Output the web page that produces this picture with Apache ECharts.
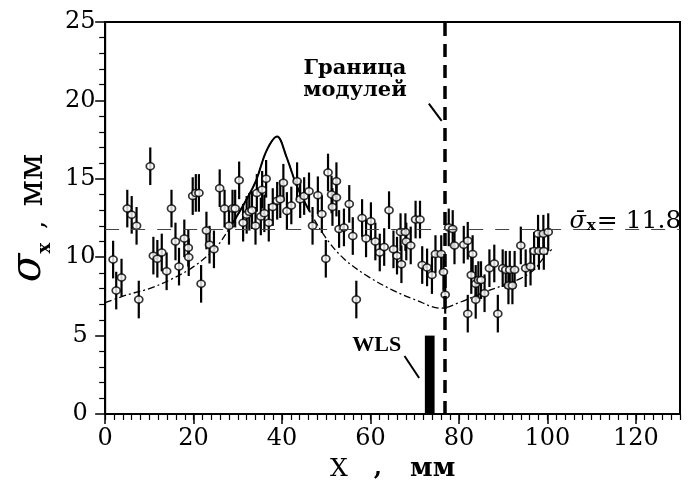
<!DOCTYPE html>
<html><head><meta charset="utf-8">
<script src="https://cdn.jsdelivr.net/npm/echarts@6/dist/echarts.min.js"></script>
<style>html,body{margin:0;padding:0;background:#fff}#c{width:688px;height:487px}</style>
</head><body><div id="c"></div>
<script>
// ---- data ----
const xTicks = [0, 20, 40, 60, 80, 100, 120];
const yTicks = [0, 5, 10, 15, 20, 25];
const pointX = [1.8, 2.5, 3.7, 5.0, 6.0, 7.1, 7.6, 10.2, 10.9, 11.8,
  12.8, 13.9, 15.0, 15.9, 16.7, 17.9, 18.8, 18.9, 19.8, 20.5,
  21.2, 21.7, 22.9, 23.6, 24.6, 25.9, 27.0, 28.0, 28.8, 29.4,
  30.3, 31.2, 32.0, 32.6, 33.2, 34.0, 34.3, 35.2, 35.5, 36.0,
  36.4, 37.0, 37.9, 38.9, 39.6, 40.3, 41.1, 42.1, 43.4, 44.1,
  45.0, 46.1, 46.9, 48.1, 49.0, 49.9, 50.4, 51.2, 51.4, 52.3,
  52.3, 52.9, 54.0, 55.2, 56.0, 56.8, 58.1, 59.0, 60.1, 61.1,
  62.1, 63.1, 64.2, 65.2, 66.0, 67.0, 66.8, 67.9, 68.1, 69.1,
  70.2, 71.2, 71.7, 72.8, 73.9, 74.7, 76.0, 76.5, 76.9, 77.7,
  78.6, 79.0, 81.1, 82.0, 83.1, 82.8, 83.8, 84.4, 85.0, 83.8,
  82.0, 86.9, 88.0, 85.8, 88.8, 89.9, 90.6, 91.5, 92.6, 91.2,
  92.1, 94.0, 95.1, 96.2, 97.0, 97.9, 98.1, 99.2, 99.1, 100.2];
const pointY = [9.85, 7.87, 8.7, 13.1, 12.7, 12.0, 7.3, 15.8, 10.1, 9.9,
  10.3, 9.1, 13.1, 11.0, 9.4, 11.2, 10.6, 10.0, 13.9, 14.1,
  14.1, 8.3, 11.7, 10.8, 10.5, 14.4, 13.1, 12.0, 13.1, 13.1,
  14.9, 12.2, 12.7, 12.9, 13.0, 12.0, 14.1, 12.6, 14.3, 12.8,
  15.0, 12.2, 13.2, 13.6, 13.7, 14.75, 12.95, 13.3, 14.85, 13.7,
  13.9, 14.2, 12.0, 13.95, 12.75, 9.9, 15.4, 14.0, 13.2, 14.85,
  13.8, 11.8, 11.9, 13.4, 11.35, 7.3, 12.5, 11.2, 12.3, 11.0,
  10.3, 10.65, 13.0, 10.5, 10.1, 9.55, 11.6, 11.6, 11.0, 10.75,
  12.4, 12.4, 9.5, 9.35, 8.86, 10.2, 10.2, 9.05, 7.6, 11.9,
  11.8, 10.75, 10.8, 11.05, 10.2, 8.86, 8.3, 8.54, 8.54, 7.28,
  6.4, 9.3, 9.6, 7.7, 6.4, 9.3, 9.2, 9.2, 9.2, 8.2,
  8.2, 10.75, 9.3, 9.4, 10.4, 11.5, 10.4, 10.4, 11.5, 11.6];
const errHalf = 1.2;
const curveX = [0, 5, 10, 15, 20, 25, 28, 31, 34, 36.5, 38.9, 41, 43.4, 46.3, 50, 54, 59, 65, 70, 76, 80, 86, 90, 94, 97, 99, 101];
const curveY = [7.1, 7.6, 8.0, 8.6, 9.4, 10.6, 11.8, 13.2, 14.8, 16.8, 17.7, 16.4, 14.5, 12.9, 11.2, 9.9, 8.85, 7.9, 7.3, 6.75, 7.1, 7.8, 8.2, 8.65, 9.2, 9.9, 10.5];
const solidFrom = 28, solidTo = 48;
const meanSigma = 11.8;
const boundaryX = 76.8;
const wlsX = [72.3, 74.5];
const wlsTop = 5.0;

// ---- chart ----
const chart = echarts.init(document.getElementById('c'), null, {renderer: 'canvas'});
const serif = 'DejaVu Serif';
const curve = curveX.map((x, i) => [x, curveY[i]]);
const solidPart = curve.filter(p => p[0] >= solidFrom && p[0] <= solidTo);

const option = {
  animation: false,
  backgroundColor: '#fff',
  grid: {left: 96, right: 8, top: 22, bottom: 68, show: true, borderColor: '#000', borderWidth: 2, backgroundColor: 'transparent'},
  xAxis: [{
    type: 'value', min: 0, max: 130, interval: 20,
    axisLine: {onZero: false, lineStyle: {color: '#000', width: 2}},
    axisTick: {length: 10, lineStyle: {color: '#000', width: 1.5}},
    splitLine: {show: false},
    axisLabel: {color: '#000', fontFamily: serif, fontSize: 24, margin: 13, showMaxLabel: false,
      formatter: v => xTicks.indexOf(v) >= 0 ? String(v) : ''},
    name: '{x|X}{c|,}{m|мм}', nameLocation: 'middle', nameGap: 42,
    nameTextStyle: {rich: {
      x: {fontFamily: serif, fontSize: 25, color: '#000', padding: [0, 26, 0, 0]},
      c: {fontFamily: serif, fontSize: 24, fontWeight: 'bold', color: '#000', padding: [0, 28, 0, 0]},
      m: {fontFamily: serif, fontSize: 26, fontWeight: 'bold', color: '#000'}
    }}
  }, {
    type: 'value', min: 0, max: 130, interval: 2, position: 'bottom',
    axisLine: {show: false}, axisTick: {length: 6, lineStyle: {color: '#000', width: 1.2}},
    axisLabel: {show: false}, splitLine: {show: false}
  }],
  yAxis: [{
    type: 'value', min: 0, max: 25, interval: 5,
    axisLine: {onZero: false, lineStyle: {color: '#000', width: 2}},
    axisTick: {length: 10, lineStyle: {color: '#000', width: 1.5}},
    minorTick: {show: true, splitNumber: 5, length: 6, lineStyle: {color: '#000', width: 1.2}},
    splitLine: {show: false},
    axisLabel: {color: '#000', fontFamily: serif, fontSize: 24, margin: 25, align: 'center',
      formatter: v => yTicks.indexOf(v) >= 0 ? String(v) : ''},
    name: '{s|σ}{sub|x}{c|,}{m|мм}', nameLocation: 'middle', nameRotate: 90, nameGap: 46,
    nameTextStyle: {rich: {
      s: {fontFamily: serif, fontStyle: 'italic', fontSize: 42, color: '#000', verticalAlign: 'bottom'},
      sub: {fontFamily: serif, fontSize: 18, fontWeight: 'bold', color: '#000', verticalAlign: 'bottom', padding: [0, 0, -4, 0]},
      c: {fontFamily: serif, fontSize: 26, color: '#000', verticalAlign: 'bottom', padding: [0, 14, 0, 14]},
      m: {fontFamily: serif, fontSize: 34, color: '#000', verticalAlign: 'bottom'}
    }}
  }],
  series: [
    {
      type: 'line', data: curve, smooth: 0.35, showSymbol: false, silent: true,
      lineStyle: {color: '#000', width: 1.3, type: [7, 3, 2, 3]}, z: 2
    },
    {
      type: 'line', data: solidPart, smooth: 0.35, showSymbol: false, silent: true,
      lineStyle: {color: '#000', width: 2}, z: 2
    },
    {
      type: 'custom', silent: true, z: 3,
      data: pointX.map((x, i) => [x, pointY[i], errHalf]),
      renderItem: (params, api) => {
        const x = api.value(0), y = api.value(1), e = api.value(2);
        const p1 = api.coord([x, y - e]), p2 = api.coord([x, y + e]);
        return {type: 'line', shape: {x1: p1[0], y1: p1[1], x2: p2[0], y2: p2[1]}, style: {stroke: '#000', lineWidth: 2.2}};
      }
    },
    {
      type: 'scatter', z: 4, silent: true,
      data: pointX.map((x, i) => [x, pointY[i]]),
      symbol: 'circle', symbolSize: [8, 7],
      itemStyle: {color: '#fff', borderColor: '#000', borderWidth: 1.6},
      markLine: {
        silent: true, symbol: ['none', 'none'], label: {show: false},
        data: [
          {yAxis: meanSigma, lineStyle: {type: [14, 12], width: 1, color: '#444'}},
          {xAxis: boundaryX, lineStyle: {type: [13, 8], width: 3.5, color: '#000'}}
        ]
      },
      markArea: {
        silent: true, itemStyle: {color: '#000'},
        data: [[{xAxis: wlsX[0], yAxis: 0}, {xAxis: wlsX[1], yAxis: wlsTop}]]
      }
    }
  ]
};
chart.setOption(option);

const P = (x, y) => chart.convertToPixel({seriesIndex: 0}, [x, y]);
const bAnchor = P(56.5, 21.3), bL1 = P(73.2, 19.8), bL2 = P(76.1, 18.7);
const wAnchor = P(61.4, 4.35), wL1 = P(67.7, 3.7), wL2 = P(71.0, 2.3);
const sAnchor = P(105.0, 12.3);
chart.setOption({
  graphic: [
    {type: 'text', x: bAnchor[0], y: bAnchor[1], z: 10,
      style: {text: 'Граница\nмодулей', fill: '#000', font: 'bold 21px "DejaVu Serif"', lineHeight: 22, align: 'center', verticalAlign: 'middle'}},
    {type: 'line', z: 10, shape: {x1: bL1[0], y1: bL1[1], x2: bL2[0], y2: bL2[1]}, style: {stroke: '#000', lineWidth: 2}},
    {type: 'text', x: wAnchor[0], y: wAnchor[1], z: 10,
      style: {text: 'WLS', fill: '#000', font: 'bold 22px "Liberation Serif"', align: 'center', verticalAlign: 'middle'}},
    {type: 'line', z: 10, shape: {x1: wL1[0], y1: wL1[1], x2: wL2[0], y2: wL2[1]}, style: {stroke: '#000', lineWidth: 2}},
    {type: 'text', x: sAnchor[0], y: sAnchor[1], z: 10,
      style: {text: '{s|σ\u0304}{sub|x}{e|= 11.8}', align: 'left', verticalAlign: 'middle',
        rich: {
          s: {fontFamily: serif, fontStyle: 'italic', fontSize: 24, fill: '#000', verticalAlign: 'bottom'},
          sub: {fontFamily: serif, fontSize: 15, fontWeight: 'bold', fill: '#000', verticalAlign: 'bottom', padding: [0, 1, 0, 1]},
          e: {fontFamily: serif, fontSize: 25, fill: '#000', verticalAlign: 'bottom'}
        }}}
  ]
});
</script></body></html>
